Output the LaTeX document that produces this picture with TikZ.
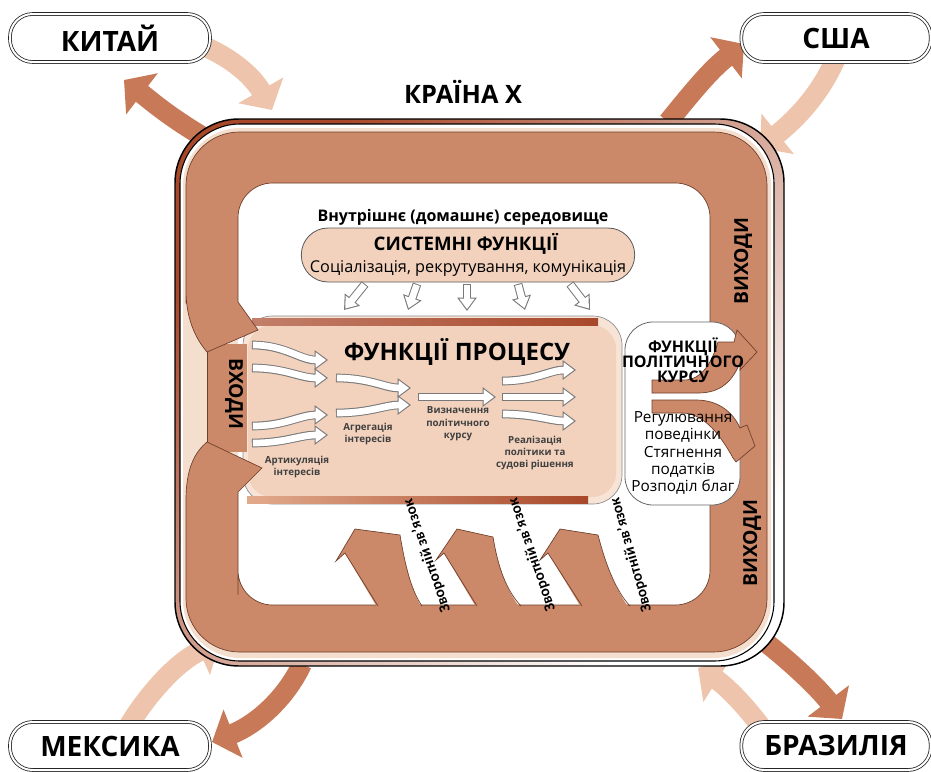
\documentclass[tikz,border=0pt]{standalone}
\usepackage{fontspec}
\setmainfont{Open Sans}
\newfontfamily\carl{Carlito}
\usetikzlibrary{arrows.meta}
\definecolor{band}{RGB}{204,137,106}
\definecolor{bandline}{RGB}{110,62,42}
\definecolor{rust}{RGB}{168,72,42}
\definecolor{rustlight}{RGB}{226,170,140}
\definecolor{tanfill}{RGB}{242,210,189}
\definecolor{tanrim}{RGB}{247,228,215}
\definecolor{cream}{RGB}{244,222,206}
\definecolor{outarrow}{RGB}{200,122,88}
\definecolor{inarrow}{RGB}{238,196,172}
\definecolor{hgray}{RGB}{120,120,120}
\newcommand\hollowarr[1]{\draw[hout] #1;\draw[hin] #1;}
\begin{document}
\begin{tikzpicture}[x=0.75pt,y=-0.75pt,
  bandst/.style={fill=band, draw=bandline, line width=0.5pt},
  pill/.style={draw=black!85, line width=0.6pt, double=white, double distance=1.5pt, fill=white, rounded corners=17pt, minimum height=36pt, inner sep=0pt, font=\bfseries\fontsize{21}{24}\selectfont},
  outar/.style={draw=outarrow, line width=15pt, -{Triangle[length=17pt,width=38pt]}},
  inar/.style={draw=inarrow, line width=15pt, -{Triangle[length=17pt,width=38pt]}},
  hout/.style={draw=hgray, line width=6.5pt, -{Triangle[length=10pt,width=14pt]}},
  hin/.style={draw=white, line width=5pt, shorten >=1.4pt, shorten <=0.7pt, -{Triangle[length=7.8pt,width=11pt]}},
  lbl/.style={font=\bfseries\fontsize{7.3}{9.3}\selectfont, text=black!75, align=center, inner sep=0pt},
  fb/.style={font=\carl\bfseries\fontsize{11.5}{13}\selectfont, inner sep=0pt},
  sidelbl/.style={font=\bfseries\fontsize{14.5}{16}\selectfont, inner sep=0pt},
  swoosh/.style={fill=band, draw=bandline, line width=0.5pt}
]
\useasboundingbox (0,0) rectangle (931,771);

% country arrows
\draw[outar] (212,142) .. controls (170,118) and (150,100) .. (124,80);
\draw[inar] (198,44) .. controls (228,55) and (252,75) .. (272,110);
\draw[outar] (668,122) .. controls (690,95) and (710,70) .. (744,44);
\draw[inar] (836,58) .. controls (820,95) and (795,120) .. (760,148);
\draw[inar] (128,727) .. controls (150,690) and (180,660) .. (220,642);
\draw[outar] (302,664) .. controls (285,700) and (255,725) .. (212,742);
\draw[outar] (752,632) .. controls (790,660) and (820,690) .. (842,719);
\draw[inar] (762,728) .. controls (745,705) and (725,685) .. (698,668);

% country pills
\node[pill, minimum width=150pt] (china) at (110,38) {КИТАЙ};
\node[pill, minimum width=142pt] (usa) at (836,38) {США};
\node[pill, minimum width=150pt] (mexico) at (110,746) {МЕКСИКА};
\node[pill, minimum width=142pt] (brazil) at (836,746) {БРАЗИЛІЯ};

\node[font=\bfseries\fontsize{19}{22}\selectfont] (kraina) at (463,92) {КРАЇНА Х};

% frame
\shade[top color=rust, middle color=rustlight!60, bottom color=white, shading angle=45, rounded corners=48pt] (175,119) rectangle (784,666);
\draw[black, line width=1.1pt, rounded corners=48pt] (175,119) rectangle (784,666);
\filldraw[fill=white, draw=black, line width=0.8pt, rounded corners=45pt] (180,124) rectangle (774,661);
\fill[cream, rounded corners=43pt] (183,128) rectangle (771,658);
\fill[white, rounded corners=26pt] (238,183) rectangle (710,605);

% system functions
\node[font=\bfseries\fontsize{12}{14}\selectfont] (vnutr) at (463,217) {Внутрішнє (домашнє) середовище};
\node[draw=black!65, line width=0.6pt, fill=tanfill, rounded corners=20pt, minimum width=250pt, minimum height=40.5pt] (syspill) at (468,255) {};
\node[font=\bfseries\fontsize{14}{16}\selectfont, inner sep=0pt] (systitle) at (466,244) {СИСТЕМНІ ФУНКЦІЇ};
\node[font=\fontsize{12.2}{14}\selectfont, inner sep=0pt] (syssub) at (468,268) {Соціалізація, рекрутування, комунікація};
\hollowarr{(365,284) -- (344,310)}
\hollowarr{(417,284) -- (408,310)}
\hollowarr{(467,284) -- (467,311)}
\hollowarr{(518,284) -- (525,310)}
\hollowarr{(570,284) -- (590,310)}

% process box
\filldraw[fill=tanrim, draw=black!45, line width=0.5pt, rounded corners=22pt] (243,316) rectangle (622,504);
\fill[tanfill, rounded corners=18pt] (248,325) rectangle (616,497);
\shade[left color=rust!70, right color=rust] (252,318) rectangle (598,325);
\shade[left color=rustlight, right color=rust] (247,496) rectangle (588,503);
\node[font=\bfseries\fontsize{18}{20}\selectfont, inner sep=0pt] (proc) at (457,352) {ФУНКЦІЇ ПРОЦЕСУ};

\hollowarr{(252,345) .. controls (285,345) and (300,360) .. (328,360)}
\hollowarr{(252,368) .. controls (285,368) and (300,378) .. (328,378)}
\hollowarr{(252,426) .. controls (285,426) and (300,415) .. (328,415)}
\hollowarr{(252,443) .. controls (285,443) and (300,435) .. (328,435)}
\hollowarr{(336,378) .. controls (370,378) and (385,388) .. (411,388)}
\hollowarr{(336,413) .. controls (370,413) and (385,405) .. (411,405)}
\hollowarr{(418,397) -- (496,397)}
\hollowarr{(502,381) .. controls (535,381) and (550,370) .. (576,370)}
\hollowarr{(502,397) -- (576,397)}
\hollowarr{(502,414) .. controls (535,414) and (550,421) .. (576,421)}

% band
\fill[band] (207,344) rectangle (247,452);
\draw[bandline, line width=0.5pt] (207,352) -- (207,442);
\filldraw[bandst] (258,330) -- (238,302) -- (238,290) [rounded corners=26pt] -- (238,183) -- (710,183) -- (710,605) -- (238,605) -- (238,560) [sharp corners] -- (238,492) -- (262,468) -- (207,442) .. controls (195,452) and (186,468) .. (186,500) -- (186,520) [rounded corners=40pt] -- (186,652) -- (767,652) -- (767,132) -- (186,132) -- (186,250) [sharp corners] -- (186,290) .. controls (186,318) and (195,338) .. (207,352) -- cycle;

% feedback arrows
\fill[band] (380,612) -- (345,553) -- (336,561) -- (355,529) -- (400,535) .. controls (405,565) and (411,590) .. (424,612) -- cycle;
\draw[bandline, line width=0.5pt] (378,606) -- (345,553) -- (336,561) -- (355,529) -- (400,535) .. controls (405,565) and (411,590) .. (422,606);
\fill[band] (479,612) -- (444,553) -- (436,560) -- (457,529) -- (493,537) .. controls (498,567) and (506,590) .. (523,612) -- cycle;
\draw[bandline, line width=0.5pt] (477,606) -- (444,553) -- (436,560) -- (457,529) -- (493,537) .. controls (498,567) and (506,590) .. (521,606);
\fill[band] (584,612) -- (548,553) -- (540,560) -- (560,529) -- (598,535) .. controls (605,562) and (615,590) .. (632,612) -- cycle;
\draw[bandline, line width=0.5pt] (582,606) -- (548,553) -- (540,560) -- (560,529) -- (598,535) .. controls (605,562) and (615,590) .. (630,606);

\node[fb, rotate=109] (fb1) at (427,556) {Зворотній зв’язок};
\node[fb, rotate=109] (fb2) at (532,555) {Зворотній зв’язок};
\node[fb, rotate=106] (fb3) at (631,555) {Зворотній зв’язок};

% policy box
\filldraw[fill=white, draw=black!60, line width=0.6pt, rounded corners=21pt] (625,322) rectangle (740,505);
\filldraw[swoosh] (652,380) -- (684,380) .. controls (702,380) and (712,362) .. (718,342) -- (734,342) -- (737,330) -- (757,352) -- (740,370) -- (741,360) .. controls (733,382) and (720,393) .. (698,393) -- (652,393) -- cycle;
\filldraw[swoosh] (652,400) -- (696,400) .. controls (718,400) and (733,412) .. (740,428) -- (747,425) -- (755,446) -- (736,462) -- (733,458) .. controls (722,438) and (705,413) .. (682,413) -- (652,413) -- cycle;
\node[font=\bfseries\fontsize{12}{11.3}\selectfont, align=center, inner sep=0pt] (polt) at (683,360) {ФУНКЦІЇ\\ПОЛІТИЧНОГО\\КУРСУ};
\node[font=\fontsize{11.5}{13}\selectfont, align=center, inner sep=0pt] (polf) at (683,453) {Регулювання\\поведінки\\Стягнення\\податків\\Розподіл благ};

% side labels
\node[sidelbl, rotate=-90] (vhody) at (234,394) {ВХОДИ};
\node[sidelbl, rotate=90] (vyhody1) at (743,261) {ВИХОДИ};
\node[sidelbl, rotate=90] (vyhody2) at (752,543) {ВИХОДИ};

% process labels
\node[lbl] (art) at (297,467) {Артикуляція\\інтересів};
\node[lbl] (agr) at (368,434) {Агрегація\\інтересів};
\node[lbl] (vyzn) at (458,424) {Визначення\\політичного\\курсу};
\node[lbl] (real) at (535,453) {Реалізація\\політики та\\судові рішення};
\end{tikzpicture}
\end{document}
